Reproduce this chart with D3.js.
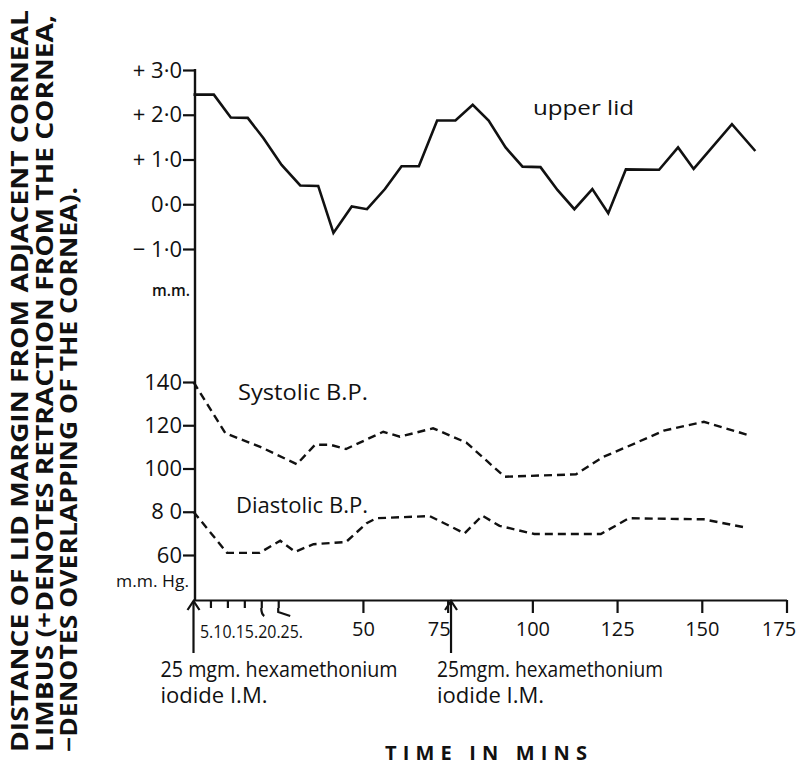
<!DOCTYPE html>
<html>
<head>
<meta charset="utf-8">
<script src="https://cdn.jsdelivr.net/npm/d3@7"></script>
<style>
  body { margin: 0; background: #fff; }
  text { font-family: "Open Sans", "DejaVu Sans", sans-serif; fill: #111; }
  .axis path, .axis line { stroke: #111; stroke-width: 2.2; }
</style>
</head>
<body>
<svg id="chart"></svg>
<script>
// upper lid position (mm) against time (mins)
const lidTime  = [0, 6, 11, 16, 20.6, 26, 31.5, 36.8, 41.3, 46.7, 51.2, 56.5, 61.4, 66.5, 71.9, 77.3, 82.4, 87.1, 92.1, 97.1, 102.4, 107.4, 112.4, 117.7, 122.4, 127.6, 137.4, 143, 147.6, 158.9, 165.8];
const lidValue = [2.45, 2.45, 1.94, 1.93, 1.48, 0.88, 0.42, 0.41, -0.64, -0.05, -0.11, 0.34, 0.85, 0.85, 1.87, 1.87, 2.22, 1.87, 1.27, 0.84, 0.83, 0.32, -0.11, 0.34, -0.2, 0.78, 0.77, 1.27, 0.79, 1.79, 1.19];

// blood pressure (mm Hg)
const sysTime  = [0, 9.4, 19.7, 30.5, 35.9, 40.3, 45, 56, 60.9, 70.7, 80.5, 91.8, 112.9, 120.7, 127.6, 138.8, 150.6, 164.3];
const sysValue = [140, 116.3, 110, 102, 111, 111, 109, 117, 114.7, 118.6, 112, 96.2, 97.3, 105.2, 109.8, 117.5, 121.6, 115.2];
const diaTime  = [0, 9.9, 19.5, 25.6, 30, 35.4, 45, 51.1, 54, 69.7, 80, 85.2, 90.3, 100.6, 120.2, 128.5, 150.6, 163.3];
const diaValue = [80, 61, 61, 66.6, 61.5, 65, 66, 74.7, 77, 78, 70, 78.2, 73.5, 69.7, 69.7, 77, 76.5, 72.6];

const lidTicks = [3, 2, 1, 0, -1];
const lidTickLabels = ["+ 3·0", "+ 2·0", "+ 1·0", "0·0", "− 1·0"];
const bpTicks = [140, 120, 100, 80, 60];
const bpTickLabels = ["140", "120", "100", "8 0", "60"];
const timeTicksMinor = [5, 10, 15, 20, 25];
const timeTicksMajor = [50, 75, 100, 125, 150, 175];

const injectionTimes = [0, 76];
const injectionLabels = [["25 mgm. hexamethonium", "iodide I.M."], ["25mgm. hexamethonium", "iodide I.M."]];

const titleLines = [
  "DISTANCE OF LID MARGIN FROM  ADJACENT CORNEAL",
  "LIMBUS (+DENOTES RETRACTION FROM THE CORNEA,",
  "−DENOTES OVERLAPPING OF THE CORNEA)."
];

const W = 801, H = 769;
const svg = d3.select("#chart").attr("width", W).attr("height", H);

const x = d3.scaleLinear().domain([0, 175]).range([193.5, 786.5]);
const yLid = d3.scaleLinear().domain([-1, 3]).range([249, 70]);
const yBP = d3.scaleLinear().domain([60, 140]).range([555, 382]);
const axisX = 195, baseY = 600;

// vertical axis line shared by both panels
svg.append("line")
  .attr("x1", axisX).attr("x2", axisX).attr("y1", 69).attr("y2", baseY)
  .attr("stroke", "#111").attr("stroke-width", 2.4);

// upper lid axis
const lidAxis = svg.append("g").attr("class", "axis")
  .attr("transform", `translate(${axisX},0)`)
  .call(d3.axisLeft(yLid).tickValues(lidTicks).tickSize(12).tickPadding(1)
    .tickFormat((d, i) => lidTickLabels[i]));
lidAxis.select(".domain").remove();
lidAxis.selectAll("text").style("font-size", "22px");

svg.append("text").attr("x", 190).attr("y", 296).attr("text-anchor", "end")
  .attr("textLength", 38).attr("lengthAdjust", "spacingAndGlyphs")
  .style("font-size", "17px").style("font-weight", "600").text("m.m.");

// blood pressure axis
const bpAxis = svg.append("g").attr("class", "axis")
  .attr("transform", `translate(${axisX},0)`)
  .call(d3.axisLeft(yBP).tickValues(bpTicks).tickSize(12).tickPadding(1)
    .tickFormat((d, i) => bpTickLabels[i]));
bpAxis.select(".domain").remove();
bpAxis.selectAll("text").style("font-size", "22px");

svg.append("text").attr("x", 189).attr("y", 587).attr("text-anchor", "end")
  .attr("textLength", 73).attr("lengthAdjust", "spacingAndGlyphs")
  .style("font-size", "17px").text("m.m. Hg.");

// time axis
const xAxisG = svg.append("g").attr("class", "axis")
  .attr("transform", `translate(0,${baseY})`)
  .call(d3.axisBottom(x).tickValues(timeTicksMajor).tickSize(13).tickSizeOuter(0).tickPadding(9));
xAxisG.selectAll("text").style("font-size", "20px")
  .attr("dx", d => d === 75 ? -9 : d === 175 ? -8 : 0);

const minorG = svg.append("g").attr("class", "axis")
  .attr("transform", `translate(0,${baseY})`)
  .call(d3.axisBottom(x).tickValues(timeTicksMinor).tickSize(8).tickFormat(""));
minorG.select(".domain").remove();

// bent leaders for the crowded 20 and 25 ticks
minorG.selectAll(".leader")
  .data(timeTicksMinor.filter(d => d >= 20))
  .join("path")
  .attr("class", "leader")
  .attr("fill", "none").attr("stroke", "#111").attr("stroke-width", 2)
  .attr("d", d => d === 20
    ? `M${x(d)},8 Q${x(d)},14 ${x(d) + 3},16`
    : `M${x(d)},8 L${x(d)},12 L${x(d) + 12},16`);

svg.append("text").attr("x", 200).attr("y", 638)
  .attr("textLength", 103).attr("lengthAdjust", "spacingAndGlyphs")
  .style("font-size", "19px")
  .text(timeTicksMinor.map(d => d + ".").join(""));

// injection arrows
injectionTimes.forEach((t, i) => {
  const px = x(t);
  svg.append("line").attr("x1", px).attr("x2", px).attr("y1", 601).attr("y2", 653)
    .attr("stroke", "#111").attr("stroke-width", 2.2);
  svg.append("path").attr("d", `M${px - 6},610 L${px},601 L${px + 6},610`)
    .attr("fill", "none").attr("stroke", "#111").attr("stroke-width", 2.2);
  const lx = i === 0 ? px - 33 : px - 14;
  svg.append("text").attr("x", lx).attr("y", 677)
    .attr("textLength", i === 0 ? 237 : 226).attr("lengthAdjust", "spacingAndGlyphs")
    .style("font-size", "21px").text(injectionLabels[i][0]);
  svg.append("text").attr("x", lx).attr("y", 703)
    .attr("textLength", 107).attr("lengthAdjust", "spacingAndGlyphs")
    .style("font-size", "21px").text(injectionLabels[i][1]);
});

// series
const lidLine = d3.line().x(d => x(d[0])).y(d => yLid(d[1]));
svg.append("path")
  .datum(d3.zip(lidTime, lidValue))
  .attr("d", lidLine)
  .attr("fill", "none").attr("stroke", "#111").attr("stroke-width", 2.6)
  .attr("stroke-linejoin", "miter");

const bpLine = d3.line().x(d => x(d[0])).y(d => yBP(d[1]));
[[sysTime, sysValue], [diaTime, diaValue]].forEach(s => {
  svg.append("path")
    .datum(d3.zip(s[0], s[1]))
    .attr("d", bpLine)
    .attr("fill", "none").attr("stroke", "#111").attr("stroke-width", 2.4)
    .attr("stroke-dasharray", "8,5");
});

// series labels
svg.append("text").attr("x", 533).attr("y", 115).attr("textLength", 101)
  .attr("lengthAdjust", "spacingAndGlyphs").style("font-size", "20px").text("upper lid");
svg.append("text").attr("x", 238).attr("y", 400).attr("textLength", 130)
  .attr("lengthAdjust", "spacingAndGlyphs").style("font-size", "21px").text("Systolic  B.P.");
svg.append("text").attr("x", 236).attr("y", 513).attr("textLength", 132)
  .attr("lengthAdjust", "spacingAndGlyphs").style("font-size", "21px").text("Diastolic  B.P.");

// axis titles
svg.append("text").attr("x", 385).attr("y", 760).attr("textLength", 202)
  .attr("lengthAdjust", "spacing")
  .style("font-size", "20px").style("font-weight", "bold").text("TIME IN MINS");

const titleLen = [742, 737, 565];
const titleY = [28, 53, 77];
titleLines.forEach((line, i) => {
  svg.append("text")
    .attr("transform", `translate(${titleY[i]},752) rotate(-90)`)
    .attr("textLength", titleLen[i]).attr("lengthAdjust", "spacingAndGlyphs")
    .style("font-family", "'Open Sans', sans-serif")
    .style("font-size", "23px").style("font-weight", "700")
    .text(line);
});
</script>
</body>
</html>
